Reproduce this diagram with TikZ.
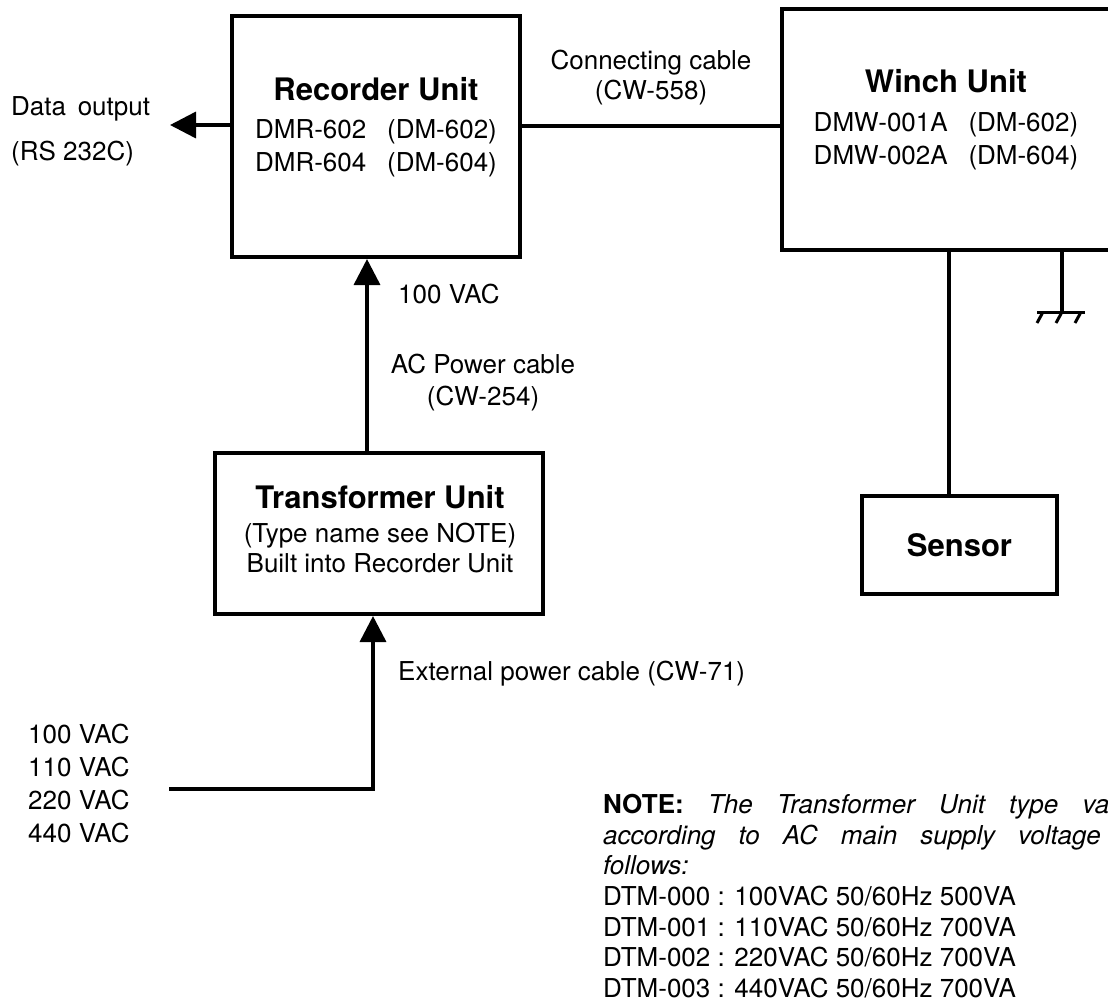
\documentclass[tikz,border=0pt]{standalone}
\usepackage{fontspec}
\setmainfont{TeX Gyre Heros}
\usetikzlibrary{arrows.meta,positioning,calc}

\newcommand{\rmsize}{\fontsize{26}{33}\selectfont}
\newcommand{\ttlsize}{\fontsize{31}{36}\selectfont\bfseries}

\begin{document}
\begin{tikzpicture}[
    x=1pt, y=-1pt,
    box/.style={rectangle, draw, line width=4pt, inner sep=0pt},
    lbl/.style={inner sep=0pt, font=\rmsize, align=left},
    ctr/.style={inner sep=0pt, font=\rmsize, align=center},
    wire/.style={line width=3.5pt},
    arrow/.style={wire, -{Triangle[length=26pt, width=26pt]}}
]
\useasboundingbox (0,0) rectangle (1108,1002);
\clip (0,0) rectangle (1108,1002);

% units
\node[box, minimum width=288pt, minimum height=241pt] (rec) at (376,136.5) {};
\node[box, minimum width=338pt, minimum height=241pt] (winch) at (951,129.5) {};
\node[box, minimum width=328pt, minimum height=161pt] (trans) at (379,533.5) {};
\node[box, minimum width=195pt, minimum height=98pt] (sensor) at (959.5,545) {\ttlsize Sensor};

% texts inside the units
\node[ctr, anchor=north] (rect) at (376,77.5) {{\ttlsize Recorder Unit}\\[5pt]
    DMR-602\hspace{0.8em}(DM-602)\\DMR-604\hspace{0.8em}(DM-604)};
\node[ctr, anchor=north] (wint) at (946,69.5) {{\ttlsize Winch Unit}\\[6pt]
    DMW-001A\hspace{0.8em}(DM-602)\\DMW-002A\hspace{0.8em}(DM-604)};
\node[ctr, anchor=north, font=\fontsize{26}{30}\selectfont] (trant) at (380,485.5) {{\ttlsize Transformer Unit}\\[4pt]
    (Type name see NOTE)\\Built into Recorder Unit};

% connectors
\coordinate (dout) at (170,125);
\coordinate (cabley) at (0,126);
\coordinate (acx) at (367,0);
\coordinate (extx) at (373,0);
\coordinate (mains) at (169,789);
\coordinate (sensx) at (949,0);
\coordinate (gnd) at (1062,312);

\draw[arrow] (rec.west |- dout) -- (dout);
\draw[wire] (rec.east |- cabley) -- node[ctr, midway, above=19pt, font=\fontsize{26}{30}\selectfont] (cablab)
    {Connecting cable\\(CW-558)} (winch.west |- cabley);
\draw[arrow] (trans.north -| acx) -- (rec.south -| acx);
\draw[arrow] (mains) -| (trans.south -| extx);
\draw[wire] (winch.south -| sensx) -- (sensor.north -| sensx);

% ground
\draw[wire] (winch.south -| gnd) -- (gnd);
\draw[line width=3pt] (gnd) ++(-25,0) -- ++(48,0);
\foreach \dx in {-19,0,19}
    \draw[line width=3pt] (gnd) ++(\dx,0) -- ++(-6,11);

% labels
\node[lbl, anchor=north west] (dlab) at (11,96) {Data\hspace{0.45em}output\\[12pt](RS 232C)};
\node[lbl, anchor=north west] (vaclab) at (398,284) {100 VAC};
\node[ctr, anchor=north, font=\fontsize{26}{32}\selectfont] (aclab) at (483,354) {AC Power cable\\(CW-254)};
\node[lbl, anchor=north west] (extlab) at (398,661) {External power cable (CW-71)};
\node[lbl, anchor=north west] (vlist) at (28,724) {100 VAC\\110 VAC\\220 VAC\\440 VAC};

% note
\node[inner sep=0pt, anchor=north west, text width=548pt, align=justify,
      font=\fontsize{26}{30.7}\selectfont] (note) at (603,794)
    {\textbf{NOTE:} \textit{The Transformer Unit type varies\linebreak
     according to AC main supply voltage as\linebreak follows:}\\
     DTM-000 : 100VAC 50/60Hz 500VA\\
     DTM-001 : 110VAC 50/60Hz 700VA\\
     DTM-002 : 220VAC 50/60Hz 700VA\\
     DTM-003 : 440VAC 50/60Hz 700VA};

\end{tikzpicture}
\end{document}
